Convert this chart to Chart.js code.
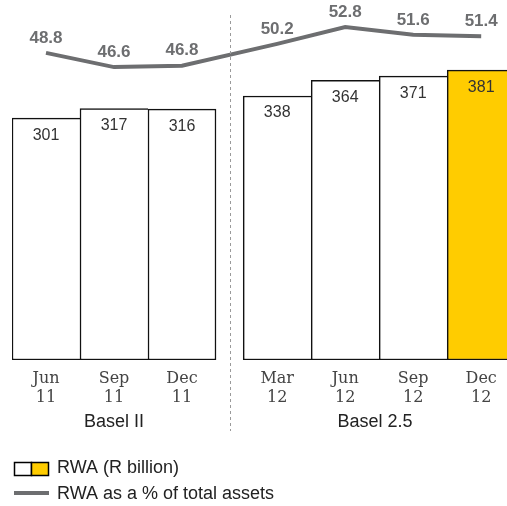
<!DOCTYPE html>
<html>
<head>
<meta charset="utf-8">
<script src="https://cdn.jsdelivr.net/npm/chart.js@4/dist/chart.umd.min.js"></script>
<style>
  html, body { margin: 0; padding: 0; overflow: hidden; background: #fff; }
  #wrap { width: 516px; height: 506px; position: relative; }
</style>
</head>
<body>
<div id="wrap"><canvas id="rwa_chart"></canvas></div>
<script>
// quarters, grouped by regime
var quarters = [["Jun", "11"], ["Sep", "11"], ["Dec", "11"], ["Mar", "12"], ["Jun", "12"], ["Sep", "12"], ["Dec", "12"]];
var regimeOf = [0, 0, 0, 1, 1, 1, 1];
var regimes = ["Basel II", "Basel 2.5"];

// RWA in R billion, and RWA as % of total assets
var rwa = [301, 317, 316, 338, 364, 371, 381];
var rwaPct = [48.8, 46.6, 46.8, 50.2, 52.8, 51.6, 51.4];

var GROUP_GAP = 0.4;   // extra room between the two regimes, in slots
var RWA_MIN = -102;    // bars hang from the bottom of the plot, not from zero
var GREY = "#6d6e70";
var YELLOW = "#ffcc00";

// slot position of each quarter on the x scale
var xPos = regimeOf.map(function (g, i) { return i + g * GROUP_GAP; });

function isGroupEnd(i) {
    return i === rwa.length - 1 || regimeOf[i + 1] !== regimeOf[i];
}

var labelPlugin = {
    id: "valueLabels",
    afterDatasetsDraw: function (chart) {
        var ctx = chart.ctx;
        ctx.save();
        ctx.textAlign = "center";
        ctx.textBaseline = "middle";

        // bar values, just inside the top of each bar
        ctx.font = "16px 'Liberation Sans', Arial, sans-serif";
        ctx.fillStyle = "#333";
        chart.getDatasetMeta(1).data.forEach(function (bar, i) {
            ctx.fillText(String(rwa[i]), bar.x, bar.y + 17);
        });

        // percentages above the line
        ctx.font = "bold 17px 'Liberation Sans', Arial, sans-serif";
        ctx.fillStyle = GREY;
        chart.getDatasetMeta(0).data.forEach(function (pt, i) {
            ctx.fillText(rwaPct[i].toFixed(1), pt.x, pt.y - 15);
        });
        ctx.restore();
    },
    afterDraw: function (chart) {
        var ctx = chart.ctx;
        var bars = chart.getDatasetMeta(1).data;
        var xs = chart.scales.x;
        var visibleRight = Math.min(chart.width, 507);
        ctx.save();

        // dashed divider between regimes
        var lastOld = regimeOf.lastIndexOf(0);
        var divX = (bars[lastOld].x + bars[lastOld].width / 2 + bars[lastOld + 1].x - bars[lastOld + 1].width / 2) / 2;
        ctx.strokeStyle = "#9a9a9a";
        ctx.lineWidth = 1;
        ctx.setLineDash([3, 3]);
        ctx.beginPath();
        ctx.moveTo(Math.round(divX) + 0.5, 15);
        ctx.lineTo(Math.round(divX) + 0.5, 431);
        ctx.stroke();
        ctx.setLineDash([]);

        // regime names under the quarter labels
        ctx.font = "18px 'Liberation Sans', Arial, sans-serif";
        ctx.fillStyle = "#222";
        ctx.textAlign = "center";
        ctx.textBaseline = "middle";
        regimes.forEach(function (name, g) {
            var first = regimeOf.indexOf(g), last = regimeOf.lastIndexOf(g);
            var left = bars[first].x - bars[first].width / 2;
            var right = Math.min(bars[last].x + bars[last].width / 2, visibleRight);
            ctx.fillText(name, (left + right) / 2, xs.top + 62);
        });

        // legend
        ctx.textAlign = "left";
        ctx.lineWidth = 1.5;
        ctx.strokeStyle = "#000";
        ctx.fillStyle = "#fff";
        ctx.fillRect(14, 462, 17, 13);
        ctx.strokeRect(14.5, 462.5, 17, 13);
        ctx.fillStyle = YELLOW;
        ctx.fillRect(31.5, 462.5, 17, 13);
        ctx.strokeRect(31.5, 462.5, 17, 13);
        ctx.fillStyle = "#222";
        ctx.fillText("RWA (R billion)", 57, 468);

        ctx.strokeStyle = GREY;
        ctx.lineWidth = 4;
        ctx.beginPath();
        ctx.moveTo(14, 493);
        ctx.lineTo(49, 493);
        ctx.stroke();
        ctx.fillText("RWA as a % of total assets", 57, 494);
        ctx.restore();
    }
};

var chart = new Chart(document.getElementById("rwa_chart"), {
    data: {
        datasets: [
            {
                type: "line",
                label: "RWA as a % of total assets",
                yAxisID: "y2",
                data: rwaPct.map(function (v, i) { return { x: xPos[i], y: v }; }),
                borderColor: GREY,
                borderWidth: 4,
                pointRadius: 0,
                tension: 0
            },
            {
                type: "bar",
                label: "RWA (R billion)",
                yAxisID: "y",
                data: rwa.map(function (v, i) { return { x: xPos[i], y: v }; }),
                base: RWA_MIN,
                backgroundColor: rwa.map(function (v, i) { return i === rwa.length - 1 ? YELLOW : "#fff"; }),
                borderColor: "#111",
                borderWidth: function (c) {
                    return { top: 1.5, bottom: 1.5, left: 1.5, right: isGroupEnd(c.dataIndex) ? 1.5 : 0 };
                },
                borderSkipped: false,
                barPercentage: 1,
                categoryPercentage: 1
            }
        ]
    },
    options: {
        responsive: true,
        maintainAspectRatio: false,
        animation: false,
        layout: { padding: { left: 12, right: 0.8, top: 0, bottom: 0 } },
        plugins: {
            legend: { display: false },
            tooltip: { enabled: false }
        },
        scales: {
            x: {
                type: "linear",
                offset: false,
                min: -0.5,
                max: xPos[xPos.length - 1] + 0.5,
                grid: { display: false, drawTicks: false, offset: false },
                border: { display: false },
                afterBuildTicks: function (scale) {
                    scale.ticks = xPos.map(function (v) { return { value: v }; });
                },
                afterFit: function (scale) { scale.height = 146; },
                ticks: {
                    autoSkip: false,
                    maxRotation: 0,
                    padding: 10,
                    color: "#444",
                    font: { family: "'DejaVu Serif', serif", size: 16, lineHeight: 1.15 },
                    callback: function (value, index) { return quarters[index]; }
                }
            },
            y: { display: false, min: RWA_MIN, max: 498 },
            y2: { display: false, min: 1.2, max: 57 }
        }
    },
    plugins: [labelPlugin]
});
</script>
</body>
</html>
